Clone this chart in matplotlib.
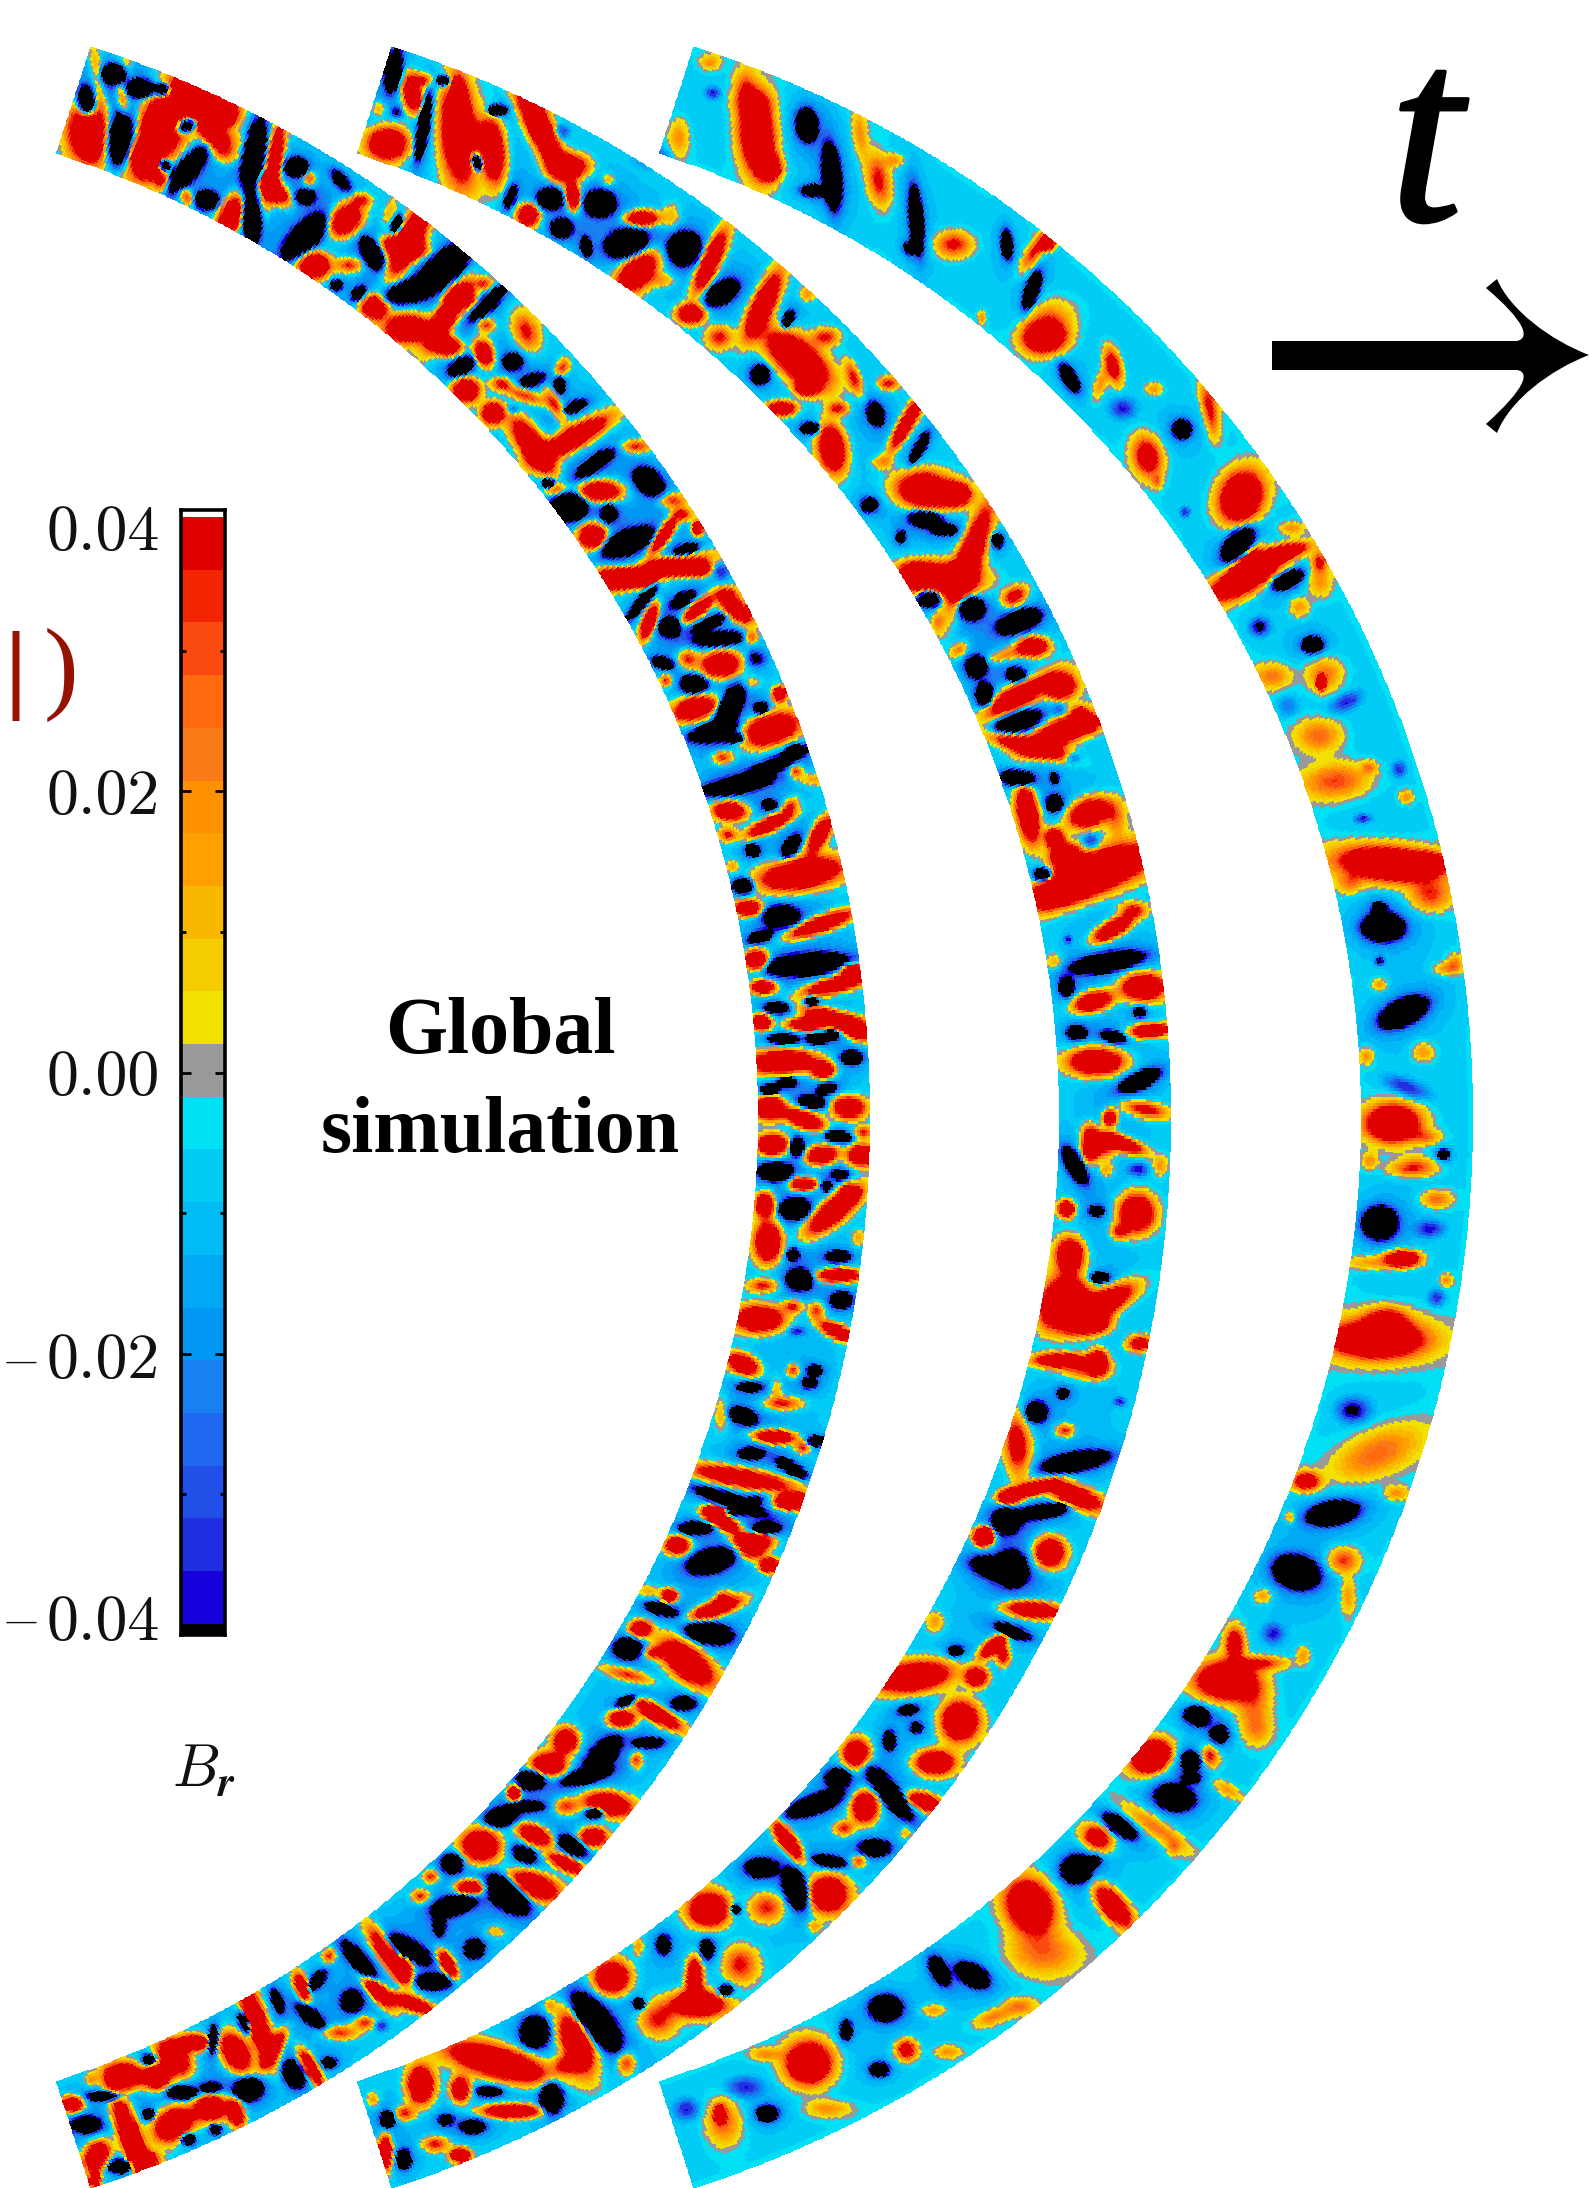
import numpy as np
import matplotlib
matplotlib.use("Agg")
import matplotlib.pyplot as plt
import matplotlib.patheffects as pe
from matplotlib.colors import ListedColormap, BoundaryNorm
from matplotlib.patches import PathPatch
from matplotlib.path import Path

plt.rcParams['mathtext.fontset'] = 'cm'

W, H = 1589, 2188

# colour levels of the bar, bottom to top
bar_colors = ['#1800dc', '#2030e0', '#2050e8', '#2068f0', '#1880f0', '#0098f2',
              '#00a8f5', '#00bbf5', '#00ccf5', '#00e0f4', '#999999',
              '#f2e000', '#f5cc00', '#f8b800', '#ffa000', '#ff9000', '#fa7a18',
              '#ff6a10', '#f94a0f', '#f22500', '#e00000']
levels = np.linspace(-0.0392, 0.0395, 22)
bar_major = [-0.02, 0.0, 0.02]
bar_minor = [-0.03, -0.01, 0.01, 0.03]
bar_labels = ['0.04', '0.02', '0.00', '0.02', '0.04']

# arcs: centre x, then shared centre y, radii, half opening in degrees
arc_cx = [-255, 46, 348]
arc_cy = 1117.5
r_in, r_out = 1013, 1125
half_open = 72.1
arc_bg = [-0.013, -0.0115, -0.0085]

R, K, O, Y, B = 0.12, -0.12, 0.05, 0.026, -0.028

# patches of B_r read from crops of the picture: x, y in the crop,
# long and short half size in px, tilt in degrees, strength
crop_a = (20, 30, 2.24, 3.0, [
    (155,310,24,16,80,R),(150,212,13,8,85,K),(212,132,11,9,0,K),(272,175,13,8,0,K),(322,180,7,7,0,K),
    (180,200,18,5,80,Y),(232,205,20,5,80,O),(172,105,16,5,80,Y),(240,110,14,4,80,Y),(228,325,26,13,100,K),
    (320,290,42,20,-60,R),(390,220,22,14,10,R),(450,250,14,12,0,R),(430,300,18,8,60,R),(375,280,13,8,-25,K),
    (280,390,12,8,70,R),(375,420,24,9,-50,K),(325,405,5,5,0,K),(525,380,32,9,100,K),(570,400,30,6,100,R),
    (570,480,14,7,40,R),(470,370,12,8,0,Y),(480,330,12,7,0,Y),(420,510,10,8,0,K),(475,555,18,9,-65,R),
    (375,500,8,5,60,O),(520,565,20,8,85,K),(320,455,6,8,0,O),(620,410,10,8,0,K),(720,450,14,7,50,-0.05),
    (650,445,5,6,0,O),(640,500,8,6,0,K),(730,570,14,11,-40,R),(765,510,8,5,0,O),(640,620,25,11,-45,K),
    (830,550,12,4,-70,Y),(845,580,8,4,-70,K),(660,705,12,10,0,R),(740,705,10,6,0,O),(790,670,15,8,60,K),
    (870,640,30,10,-65,R),(860,650,16,7,10,R),(960,700,22,12,-40,K),(880,780,25,9,-15,K),(925,740,10,6,0,K),
    (710,765,5,4,0,K),(760,790,7,4,-50,K),(795,830,10,9,0,R),(870,895,17,11,0,R),(960,850,28,8,-60,R),
    (990,800,10,8,0,R),(1050,820,20,6,-45,K),(1040,760,8,4,0,O),(1045,885,7,6,0,O),(1135,905,16,10,70,O),
    (960,950,10,7,0,R),(1040,970,10,7,70,R),(990,1010,12,7,-30,K),(1105,995,8,7,0,K),(1150,1050,10,5,-20,K),
    (1210,1065,7,4,80,K),(1215,1015,8,5,-60,O),(1000,1080,10,9,0,R),(1060,1150,8,8,0,R),(1080,1060,8,5,0,O),
    (1130,1095,18,5,20,O),(1200,1125,16,5,60,O),(1245,1130,10,3,-25,K),(1105,1140,6,4,0,B),(1150,1250,25,9,55,R),
    (1240,1225,30,8,-30,R),(1380,1250,12,3,0,O),(1290,1300,18,6,-35,K),(1410,1355,14,10,40,K),(1300,1385,16,8,0,R),
    (1230,1430,11,10,0,K),(1185,1360,5,3,0,K),(1320,1450,5,7,0,K),(1200,1380,10,3,0,O),
    # second arc, top
    (838,120,18,7,100,K),(805,235,6,6,0,Y),(845,245,6,6,0,B),(880,190,14,7,80,R),(905,150,8,5,0,O),
    (905,290,28,5,100,K),(825,340,15,12,0,R),(985,310,38,14,85,R),(985,170,10,4,80,O),(1025,395,8,5,80,K),
    (1070,240,8,5,0,K),(950,150,6,4,0,K),(1060,360,24,9,85,R),(1165,290,40,9,65,R),(1230,410,14,9,0,R),
    (1100,500,10,4,-70,K),(1190,505,11,9,0,K),(1240,500,10,5,85,R),(1140,555,8,8,0,R),(1300,520,13,11,0,K),
    (1215,595,9,8,0,K),(1270,650,8,4,80,K),(1360,640,18,12,-15,K),(1395,565,12,6,0,R),(1460,560,8,11,0,Y),
    (1490,655,14,14,0,K),(1385,725,19,11,-45,R),(1320,450,5,3,0,Y),(1215,305,7,7,0,B),(1420,380,16,10,0,B),
])

crop_b = (450, 400, 3.0, 2.53, [
    (360,270,14,11,0,K),(480,288,6,5,0,K),(430,345,11,10,0,R),(535,360,24,10,-20,K),(640,345,16,4,-55,R),
    (710,378,10,4,-15,K),(670,255,10,6,0,O),(700,290,8,5,0,O),(745,325,4,3,0,R),(590,440,42,7,-15,R),
    (530,450,20,6,10,R),(680,425,16,4,10,R),(755,425,7,5,0,R),(815,435,8,8,0,B),(580,510,20,4,-50,K),
    (600,560,14,4,-70,R),(700,505,11,5,-30,K),(745,530,14,4,-40,R),(660,575,9,8,0,K),(780,565,14,4,-25,K),
    (810,605,20,6,-5,K),(860,530,14,7,40,R),(835,490,8,4,0,O),(640,665,9,5,15,K),(715,655,8,8,0,O),
    (815,670,15,10,-5,R),(920,655,10,8,0,-0.035),(905,600,6,3,0,O),(735,720,11,8,0,K),(650,710,5,5,0,O),
    (740,780,17,9,-15,R),(990,745,5,5,0,R),(840,780,22,9,-65,K),(790,840,20,7,-15,K),(850,855,10,4,0,K),
    (935,780,6,5,0,K),(960,835,22,12,-15,R),(820,905,8,5,0,O),(900,715,10,6,0,Y),(860,975,28,7,-10,K),
    (960,930,28,6,-25,K),(1040,885,8,4,0,K),(840,1040,12,7,5,R),(960,1025,6,2,0,K),(960,1075,18,5,-25,R),
    (1020,1030,8,4,-50,O),(1090,960,12,4,0,Y),(1040,940,5,5,0,O),(835,1100,7,4,0,O),(910,1140,6,5,0,K),
    (1025,1130,11,6,-55,K),(1050,1200,32,12,-10,R),(1110,1100,14,6,-60,R),(850,1180,5,5,0,Y),(880,1230,9,7,0,K),
])

crop_c = (680, 900, 3.0, 2.41, [
    (205,20,10,6,0,R),(305,40,15,9,0,K),(240,90,10,5,-20,K),(420,60,25,6,-20,R),(230,145,9,8,0,R),
    (380,155,36,9,-5,K),(465,205,25,6,-15,R),(520,170,9,5,0,R),(250,210,9,5,0,R),(290,260,10,5,0,K),
    (395,245,6,3,0,K),(450,285,22,6,20,R),(530,310,12,7,30,R),(380,300,14,4,0,R),(245,295,7,6,0,R),
    (310,335,12,4,0,K),(410,335,8,3,0,K),(455,325,6,2,0,K),(310,390,25,9,-3,R),(430,410,8,6,0,R),
    (515,380,9,6,0,K),(320,440,8,2,0,K),(270,458,8,3,0,K),(440,455,8,3,-15,K),(270,500,11,9,0,R),
    (395,487,11,5,10,K),(375,530,15,7,20,R),(505,500,12,8,0,R),(280,590,12,8,0,R),(350,595,6,8,0,K),
    (475,570,11,5,10,K),(425,615,12,7,-10,R),(545,615,10,8,0,R),(550,560,7,3,0,O),(285,655,14,8,0,K),
    (370,685,10,3,0,R),(480,662,7,3,0,K),(440,690,4,4,0,K),(255,735,7,9,0,R),(345,745,13,9,-5,K),
    (460,750,25,9,-40,R),(510,705,6,5,0,R),(265,825,10,15,0,R),(535,815,5,6,0,Y),(340,855,5,5,0,K),
    (475,860,10,5,0,K),(360,915,11,9,0,K),(475,905,16,4,0,R),(485,965,9,7,0,K),(250,930,12,3,0,O),
    (340,980,8,4,0,O),(410,990,6,7,0,O),(240,1010,18,10,0,R),(470,1040,13,4,25,R),(350,1040,8,4,0,B),
    (190,1120,12,7,25,R),(340,1135,5,5,0,O),(405,1135,6,3,0,K),(390,1165,6,2,0,K),(210,1175,10,3,0,K),
    (290,1180,5,10,0,Y),(310,1215,15,5,0,O),(190,1245,12,7,20,K),(125,1240,6,14,0,Y),(285,1295,15,4,5,R),
    (410,1305,8,3,0,K),(370,1320,6,4,0,O),(215,1335,10,5,0,K),(335,1370,14,5,30,K),(190,1395,36,7,10,R),
    (340,1450,10,3,0,R),(150,1450,30,6,20,K),(130,1500,15,6,30,R),(50,1515,12,3,0,K),(220,1545,14,5,0,R),
    (270,1515,8,2,0,K),
    # second arc
    (1300,70,16,6,-30,R),(1125,150,7,7,0,Y),(1285,150,30,8,-10,K),(1160,210,6,8,0,K),(1240,245,14,7,-15,R),
    (1390,210,16,10,0,R),(1165,95,4,3,0,B),(1380,270,5,4,0,K),(1190,320,8,6,0,K),(1300,330,10,5,15,K),
    (1410,315,14,4,-5,R),(1250,390,20,10,0,R),(1380,435,18,7,-25,K),(1395,505,17,6,10,0.06),(1290,525,5,6,0,R),
    (1230,590,6,12,0,R),(1320,585,18,5,20,R),(1270,600,10,8,0,O),(1185,640,17,7,60,K),(1375,650,10,6,0,B),
    (1440,640,6,8,0,Y),(1280,650,6,6,0,Y),(1160,745,6,6,0,R),(1250,750,6,3,0,K),(1370,755,13,14,0,R),
    (1320,800,7,6,0,O),(1170,855,10,12,0,R),(1260,910,8,3,0,K),(1165,970,18,20,0,R),(1270,975,25,9,-30,R),
    (1230,1020,14,8,0,R),(1100,1000,8,15,0,Y),(1380,1070,10,6,0,0.07),(1140,1110,18,3,0,R),(1255,1115,7,9,0,R),
    (1220,1130,18,8,0,O),(1320,1210,6,4,0,B),(1150,1190,5,3,0,K),(1070,1235,9,9,0,K),(1155,1280,7,5,0,O),
    (1190,1355,28,8,-10,K),(1020,1330,10,25,0,O),(1000,1290,8,20,0,Y),(1060,1420,20,4,-15,R),(1190,1440,20,8,20,R),
    (990,1440,8,3,0,R),(1090,1475,22,6,-10,K),(980,1500,10,9,0,K),(910,1535,6,4,0,R),
])

crop_d = (400, 1500, 2.41, 2.28, [
    (830,15,14,4,-25,K),(760,30,8,4,0,R),(850,110,10,8,0,R),(670,105,9,7,0,R),(710,65,10,3,0,K),
    (750,140,20,10,-15,K),(890,150,7,4,0,R),(940,5,10,3,0,R),(880,65,9,2,0,K),(630,250,13,5,15,K),
    (650,220,6,3,0,R),(760,250,20,6,-20,R),(780,225,6,6,0,O),(600,210,9,4,0,Y),(580,295,8,6,0,R),
    (745,305,20,9,10,K),(550,340,12,9,0,K),(690,370,25,12,40,R),(550,400,20,3,15,O),(610,350,8,4,0,O),
    (545,460,9,4,-25,K),(685,465,10,6,0,K),(620,490,20,6,30,R),(535,500,10,7,0,R),(400,550,9,9,0,R),
    (360,605,13,9,0,R),(490,580,18,9,-45,K),(450,630,20,6,-15,K),(600,555,12,4,0,K),(570,595,5,7,0,O),
    (315,640,12,8,0,K),(275,670,5,6,0,R),(245,725,14,8,-10,K),(305,700,14,3,0,K),(500,695,18,9,10,R),
    (470,715,8,5,0,K),(400,700,10,7,0,O),(325,765,14,7,25,R),(465,770,10,7,0,R),(415,790,13,7,30,K),
    (300,810,10,6,30,K),(400,830,14,4,25,R),(195,790,15,13,0,R),(125,830,9,8,0,K),(320,880,20,10,20,R),
    (170,885,11,6,0,R),(75,860,6,5,0,O),(50,905,7,5,0,O),(260,900,22,12,40,K),(130,925,18,8,-15,K),
    (95,970,5,9,0,K),(20,1025,20,8,30,K),(180,1025,8,8,0,K),(115,1060,12,5,60,R),(10,1070,6,8,0,R),
    (80,1100,15,7,0,K),(30,1150,18,5,20,R),(230,985,8,3,0,Y),
    # second arc
    (1440,160,22,9,15,K),(1410,85,7,7,0,R),(1430,335,12,5,-40,R),(1390,405,8,7,0,R),(1350,505,14,15,0,R),
    (1290,280,7,8,0,Y),(1340,345,6,4,0,K),(1245,520,5,4,0,K),(1180,550,5,8,0,K),(1240,405,28,11,-8,R),
    (1225,480,8,3,-10,K),(1100,580,10,11,0,R),(1290,600,14,9,0,R),(1180,670,28,8,50,K),(1265,690,13,6,20,R),
    (1055,635,10,8,0,K),(1000,695,24,8,-20,K),(1120,700,10,12,0,R),(1145,795,13,7,0,K),(1070,750,8,6,0,O),
    (1220,760,5,3,0,Y),(935,780,18,6,55,R),(1035,825,13,5,10,K),(1105,825,6,4,0,O),(1030,900,15,14,0,R),
    (955,890,18,10,70,K),(870,840,13,8,0,K),(885,930,14,12,0,O),(745,935,15,13,0,R),(810,935,4,4,0,K),
    (820,1060,14,15,0,O),(1000,975,6,5,0,Y),(740,1025,6,8,0,K),(635,1015,6,8,0,K),(575,1020,4,7,0,Y),
    (710,1090,6,15,0,R),(720,1150,20,10,0,R),(620,1185,15,14,0,O),(785,1120,6,5,0,K),(510,1090,13,12,0,R),
    (470,1190,30,13,50,K),(425,1235,25,12,70,R),(325,1215,12,13,0,K),(400,1290,10,7,0,O),(545,1285,7,9,0,O),
    (360,1155,5,4,0,Y),(575,1150,5,4,0,K),(240,1285,40,12,15,R),(365,1365,10,14,0,K),(145,1345,7,9,0,R),
    (50,1335,10,14,0,R),(215,1350,10,3,0,K),(270,1395,22,4,0,R),(175,1430,10,6,0,K),(110,1415,6,4,0,K),
    (85,1470,10,6,0,O),(145,1495,7,5,0,R),(10,1400,8,6,0,O),
    # third arc
    (1430,1180,16,6,-20,0.03),(1380,1085,15,9,30,K),(1300,1075,13,7,60,K),(1170,1160,14,11,0,K),(1075,1210,5,8,0,K),
    (1155,1300,8,6,0,K),(1220,1255,8,8,0,0.07),(1285,1165,10,4,0,Y),(1320,1260,10,3,0,Y),(985,1285,17,16,0,R),
    (1030,1390,18,7,0,Y),(880,1265,12,5,0,Y),(885,1400,9,7,0,K),(780,1420,14,18,0,0.036),(770,1400,4,6,0,R),
    (830,1340,18,10,0,B),(690,1390,12,10,0,B),
])

crop_e = (20, 1750, 2.41, 3.0, [
    (820,640,22,7,50,K),(890,620,25,7,55,R),(860,720,18,6,50,R),(800,755,9,9,0,K),(680,715,11,5,70,R),
    (715,695,10,5,-50,K),(700,800,14,6,40,K),(620,755,10,3,70,K),(745,620,6,3,-60,O),(570,820,33,8,70,R),
    (610,900,15,5,-60,R),(540,820,10,4,70,K),(770,850,14,6,0,O),(830,820,8,5,0,O),(870,830,6,5,0,B),
    (520,910,16,10,60,R),(465,870,12,4,-85,K),(420,880,12,6,0,R),(370,925,15,10,50,R),(250,980,14,10,0,R),
    (330,985,10,9,0,R),(310,930,6,4,0,K),(170,990,5,4,0,Y),(660,975,12,9,60,K),(700,955,15,5,60,R),
    (745,940,6,4,0,K),(550,1020,12,10,0,K),(460,1075,12,10,0,R),(390,1030,12,6,0,K),(520,1090,10,6,75,R),
    (460,1015,8,2,0,K),(370,1125,16,12,-30,R),(265,1160,35,8,70,R),(300,1230,10,6,0,R),(125,1065,8,6,0,R),
    (205,1040,14,4,0,K),(160,1125,12,7,0,K),(185,1220,12,9,-60,R),(240,1250,10,6,0,K),(405,1170,6,5,0,K),
    (470,1140,5,3,0,K),(310,1095,5,4,0,K),(180,1290,4,4,0,R),
    # second arc, bottom end
    (885,1110,6,7,0,K),(925,1230,6,8,0,K),(880,1210,5,13,0,R),(850,1050,5,6,0,Y),
])

crop_f = (620, 30, 1.6, 2.8, [
    # second arc
    (145,650,25,7,-65,R),(165,735,15,9,-35,K),(70,700,10,6,0,Y),(115,795,10,7,0,R),(230,770,26,8,-65,R),
    (160,860,10,9,0,O),(270,810,8,3,-60,K),(300,740,6,6,0,Y),(285,920,30,14,40,R),(330,860,10,7,0,O),
    (225,965,8,8,0,K),(300,1000,8,6,0,R),(375,975,14,4,70,O),(260,1060,10,3,0,R),(350,1060,8,5,0,O),
    (430,990,8,5,0,O),(410,1075,10,7,70,K),(460,1100,22,5,-60,R),(305,1115,8,5,0,K),(340,1170,18,10,80,R),
    (480,1170,14,4,-60,K),(420,1210,8,4,0,Y),(490,1290,22,14,10,R),(540,1300,10,8,0,R),(400,1330,7,6,0,K),
    (490,1370,14,7,5,K),(450,1420,4,5,0,K),(520,1400,10,4,0,K),(560,1480,40,9,-70,R),(475,1520,10,7,0,R),
    (605,1430,5,6,0,K),
    # third arc
    (95,300,8,15,0,Y),(145,90,8,6,0,Y),(200,160,8,15,0,Y),(150,175,7,6,0,B),(220,290,30,13,85,R),
    (240,385,8,9,0,R),(215,200,15,10,0,Y),(300,265,14,9,85,K),(340,410,28,8,85,K),(310,450,10,5,0,K),
    (385,290,20,6,85,Y),(415,420,20,9,80,O),(440,365,8,5,0,Y),(475,530,28,6,85,K),(465,610,5,5,0,K),
    (535,600,14,10,0,O),(620,600,12,5,85,K),(665,620,18,6,-55,O),(685,595,5,3,0,R),(660,730,17,6,-70,K),
    (680,860,16,12,0,R),(690,800,20,14,0,Y),(580,805,3,3,0,Y),(790,940,14,6,75,0.07),(770,990,14,4,-70,Y),
    (720,975,13,6,60,K),(855,1005,7,4,0,Y),(805,1060,12,10,0,B),(945,1060,22,6,80,O),(900,1118,8,8,0,K),
    (845,1195,16,11,75,0.07),(860,1265,4,3,0,Y),(995,1310,20,16,-70,R),(905,1350,5,5,0,B),(990,1440,18,10,-50,K),
    (1075,1395,10,5,0,Y),(1060,1465,18,4,-15,R),(1000,1500,15,5,-50,R),(1120,1490,6,8,0,O),
])

crop_g = (1150, 560, 3.0, 2.53, [
    (290,45,30,11,-28,R),(415,50,14,7,-25,K),(510,55,10,12,0,Y),(450,120,8,8,0,Y),(330,170,10,9,0,-0.035),
    (490,215,9,7,0,K),(370,295,15,10,0,0.03),(525,290,14,14,0,0.034),(515,312,3,3,0,R),(590,360,16,8,-25,B),
    (415,370,10,10,0,-0.016),(510,445,18,13,0,0.035),(560,560,26,14,-5,0.04),(660,525,6,3,0,Y),(770,600,6,5,0,Y),
    (640,655,8,3,0,B),(750,530,7,8,0,B),(720,770,38,13,5,R),(830,765,14,6,0,R),(840,850,16,12,0,0.04),
    (600,820,10,8,0,Y),(700,930,18,12,0,K),(690,1015,5,4,0,-0.035),(690,880,6,2,0,K),(690,1075,6,5,0,Y),
    (890,1035,10,5,0,Y),(915,1020,6,7,0,Y),(760,1145,22,11,-25,K),(820,1245,9,8,0,Y),(650,1255,6,7,0,Y),
    (770,1335,22,8,20,B),(730,1425,20,14,0,R),(830,1460,12,6,0,Y),(800,1530,16,8,0,Y),(660,1520,6,6,0,Y),
    (880,1505,5,3,0,K),
])

crop_h = (1000, 1150, 3.0, 2.53, [
    # second arc
    (150,1020,11,11,0,R),(35,1060,12,14,0,K),(100,1165,20,6,5,R),(40,1220,15,5,20,K),(10,1280,5,8,0,0.07),
    (15,940,9,9,0,K),
    # third arc
    (1230,50,18,6,0,Y),(1310,125,12,7,0,0.035),(1140,185,15,14,0,K),(1290,200,14,8,0,B),(1210,275,12,6,0,R),
    (1130,285,25,6,0,Y),(1340,330,5,3,0,Y),(1310,375,8,8,0,B),(1130,480,30,12,0,R),(1160,430,15,9,0,0.06),
    (1150,480,45,22,0,0.03),(1060,660,16,12,0,-0.035),(1130,770,38,18,-25,0.035),(920,840,10,7,0,0.08),(1190,870,10,6,0,Y),
    (1000,920,22,10,-10,K),(870,930,4,4,0,Y),(890,1070,20,14,15,K),(1030,1040,12,10,0,0.045),(1045,1130,6,15,0,Y),
    (790,1130,7,6,0,Y),(820,1225,10,10,0,B),(910,1280,5,7,0,Y),(705,1250,7,12,0,0.08),(680,1345,22,14,0,R),
    (760,1400,14,18,0,0.03),(780,1300,20,5,0,O),(590,1430,10,7,0,K),(655,1480,6,5,0,K),(570,1550,6,8,0,K),
    (630,1535,5,7,0,Y),(450,1535,12,10,0,R),
])

crop_i = (900, 570, 3.0, 3.0, [
    (120,30,30,13,0,R),(90,85,11,8,0,K),(115,155,5,8,0,Y),(215,115,11,10,0,K),(345,80,10,7,-30,0.07),
    (360,155,19,9,-20,K),(180,240,8,5,-40,0.035),(400,230,11,7,0,R),(320,255,18,5,-15,0.035),(230,290,9,9,0,K),
    (350,315,8,6,0,K),(255,375,7,10,0,K),(350,385,26,9,-30,R),(480,350,10,8,0,R),(490,340,15,14,0,0.03),
    (480,420,6,6,0,-0.02),(355,455,20,9,-15,K),(480,490,28,10,-25,R),(390,530,28,6,15,R),(560,465,8,5,0,R),
    (540,430,6,6,0,O),(355,625,14,7,5,K),(465,625,5,6,0,-0.05),(520,565,8,5,0,-0.03),(465,700,7,7,0,K),
    (385,730,22,8,80,R),(570,730,16,10,-20,R),(650,750,8,14,0,0.03),(465,805,7,7,0,R),(495,855,11,8,-15,R),
    (575,815,8,8,0,-0.03),(430,915,8,6,0,K),(610,900,38,15,-20,R),(500,950,28,12,-25,R),(440,985,6,6,0,R),
    (700,1020,10,6,0,O),
])

crop_j = (1010, 1720, 3.0, 3.0, [
    (430,110,10,7,-35,R),(420,115,20,12,-35,0.035),(600,110,8,11,-30,0.028),(630,45,6,7,0,K),(545,125,7,7,0,K),
    (545,175,7,4,0,K),(495,235,17,11,10,K),(570,5,7,3,0,K),(740,30,12,13,0,Y),(650,210,13,5,30,Y),
    (430,320,32,8,35,0.035),(490,385,5,7,0,0.02),(330,320,16,7,35,K),(262,355,12,9,30,0.08),(200,450,13,12,0,K),
    (250,425,6,4,0,K),(310,560,18,8,50,R),(60,560,20,17,60,R),(100,700,28,18,0,0.035),(30,860,12,7,0,0.03),
])

crops = [crop_a, crop_b, crop_c, crop_d, crop_e, crop_f, crop_g, crop_h, crop_i, crop_j]


def patches_in_px():
    out = []
    for x0, y0, sx, sy, items in crops:
        for zx, zy, a, b, deg, amp in items:
            out.append((x0 + zx / sx, y0 + zy / sy, a, b, deg, amp))
    return np.array(out)


def field_on(x, y, base, blobs):
    z = base.copy()
    for px, py, a, b, deg, amp in blobs:
        if amp > 0:
            a = a * 1.25
            b = max(b * 1.25, 6.5)
            power = 1.0
        else:
            a = a * 1.02
            b = max(b * 1.02, 4.5)
            power = 1.3
        t = np.radians(deg)
        dx, dy = x - px, y - py
        u = dx * np.cos(t) + dy * np.sin(t)
        v = -dx * np.sin(t) + dy * np.cos(t)
        q = (u / a) ** 2 + (v / b) ** 2
        near = q < 25
        z[near] += amp * np.exp(-q[near] ** power)
        # the black patches sit in a dark blue halo
        if amp < -0.1:
            z[near] += -0.014 * np.exp(-q[near] / 4.5)
    return z


cmap = ListedColormap(bar_colors)
cmap.set_under('black')
cmap.set_over('#e00000')
norm = BoundaryNorm(levels, cmap.N)

fig = plt.figure(figsize=(W / 100, H / 100), dpi=100)
ax = fig.add_axes([0, 0, 1, 1])
ax.set_xlim(0, W)
ax.set_ylim(H, 0)
ax.axis('off')

blobs = patches_in_px()
for cx, bg in zip(arc_cx, arc_bg):
    # mesh edges, then the same at the cell centres
    th = np.radians(np.linspace(-half_open, half_open, 901))
    rr = np.linspace(r_in, r_out, 46)
    T, RR = np.meshgrid(th, rr)
    X = cx + RR * np.cos(T)
    Y_ = arc_cy + RR * np.sin(T)
    thc = 0.5 * (th[:-1] + th[1:])
    rc = 0.5 * (rr[:-1] + rr[1:])
    Tc, Rc = np.meshgrid(thc, rc)
    Xc = cx + Rc * np.cos(Tc)
    Yc = arc_cy + Rc * np.sin(Tc)
    frac = (Rc - r_in) / (r_out - r_in)
    base = bg * (0.6 + 0.4 * np.sin(np.pi * frac))
    d = np.hypot(blobs[:, 0] - cx, blobs[:, 1] - arc_cy)
    use = blobs[(d > r_in - 60) & (d < r_out + 60)]
    Z = field_on(Xc, Yc, base, use)
    ax.pcolormesh(X, Y_, Z, cmap=cmap, norm=norm, shading='flat', antialiased=False)

# colour bar
cax = fig.add_axes([181 / W, 1 - 1635 / H, 44 / W, (1635 - 510) / H])
cax.set_facecolor('white')
bar_edges = np.concatenate([[-0.04], levels])
bar_vals = np.concatenate([[-1.0], 0.5 * (levels[:-1] + levels[1:])])
cax.pcolormesh([0, 1], bar_edges, bar_vals[:, None], cmap=cmap, norm=norm, shading='flat')
cax.set_xlim(0, 1)
cax.set_ylim(-0.04, 0.04)
cax.set_xticks([])
cax.set_yticks(bar_major)
cax.set_yticks(bar_minor, minor=True)
cax.tick_params(which='major', direction='in', left=True, right=True, labelleft=False, length=7, width=2)
cax.tick_params(which='minor', direction='in', left=True, right=True, length=3.5, width=2)
for s in cax.spines.values():
    s.set_linewidth(2.6)

label_y = [534, 798, 1079, 1362, 1624]
for txt, yy in zip(bar_labels, label_y):
    ax.text(160, yy, txt, family='cmr10', fontsize=46, ha='right', va='center', color='#111111')
for yy in [1360, 1620]:
    ax.text(38, yy, r'$-$', fontsize=36, ha='right', va='center', color='#111111')
ax.text(172, 1787, r'$B_{\mathbfit{r}}$', fontsize=43, ha='left', va='baseline', color='#111111')

# fragment of the cropped label on the left
ax.text(15, 700, '|', family='Liberation Serif', fontweight='bold', fontsize=72, color='#961200', ha='center', va='baseline')
ax.text(61, 700, ')', family='Liberation Serif', fontsize=75, color='#961200', ha='center', va='baseline')

ax.text(500, 1053, 'Global', family='Liberation Serif', fontweight='bold', fontsize=57.5, ha='center', va='baseline', color='black')
ax.text(500, 1152, 'simulation', family='Liberation Serif', fontweight='bold', fontsize=57.5, ha='center', va='baseline', color='black')

# time arrow
ax.text(1426, 220, 't', family='Liberation Serif', style='italic', fontsize=190, ha='center', va='baseline', color='black',
        path_effects=[pe.withStroke(linewidth=2.5, foreground='black')])
verts = [(1272, 341), (1517, 341), (1530, 338), (1526, 322), (1486, 288), (1497, 279),
         (1510, 310), (1550, 340), (1589, 355), (1550, 370), (1510, 400), (1497, 433),
         (1486, 424), (1526, 388), (1530, 372), (1517, 370), (1272, 370), (1272, 341)]
codes = [Path.MOVETO, Path.LINETO, Path.CURVE4, Path.CURVE4, Path.CURVE4, Path.LINETO,
         Path.CURVE4, Path.CURVE4, Path.CURVE4, Path.CURVE4, Path.CURVE4, Path.CURVE4,
         Path.LINETO, Path.CURVE4, Path.CURVE4, Path.CURVE4, Path.LINETO, Path.CLOSEPOLY]
ax.add_patch(PathPatch(Path(verts, codes), facecolor='black', edgecolor='none'))

fig.savefig('out.png', dpi=100, facecolor='white')
